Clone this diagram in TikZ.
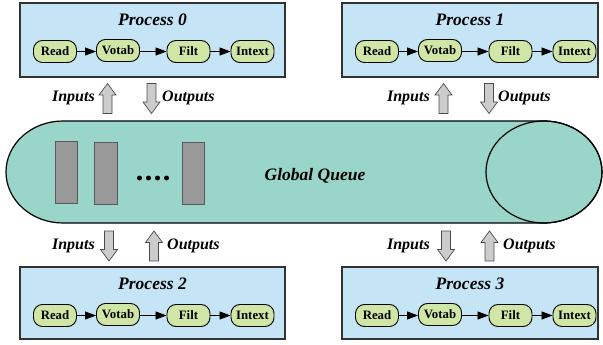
\documentclass[tikz,border=0pt]{standalone}
\usepackage{fontspec}
\setmainfont{Liberation Serif}
\usetikzlibrary{arrows.meta}

\definecolor{boxblue}{HTML}{C5E4F5}
\definecolor{stagegreen}{HTML}{CFE6A6}
\definecolor{queuegreen}{HTML}{9AD5CA}
\definecolor{slotgray}{HTML}{999999}
\definecolor{blockgray}{HTML}{CCCCCC}

\tikzset{
  procbox/.style={draw=black!80, line width=1.3pt, fill=boxblue},
  proctitle/.style={font=\fontsize{17.5}{20}\selectfont\bfseries\itshape, inner sep=0pt},
  stage/.style={draw=black, line width=0.9pt, fill=stagegreen, rounded corners=9pt,
    minimum width=43pt, minimum height=22pt, inner sep=0pt,
    font=\fontsize{12.8}{14}\selectfont\bfseries},
  flow/.style={-{Triangle[length=11pt,width=8pt]}, line width=0.8pt, black},
  iolabel/.style={font=\fontsize{16}{18}\selectfont\bfseries\itshape, inner sep=0pt},
  blockarrow/.style={draw=black!70, line width=0.7pt, fill=blockgray},
  slot/.style={draw=black!65, line width=0.8pt, fill=slotgray},
  fatup/.pic={\draw[blockarrow] (-4.5,15) -- (-4.5,-3.5) -- (-8.5,-3.5) -- (0,-15)
     -- (8.5,-3.5) -- (4.5,-3.5) -- (4.5,15) -- cycle;},
  fatdown/.pic={\draw[blockarrow] (-4.5,-15) -- (-4.5,3.5) -- (-8.5,3.5) -- (0,15)
     -- (8.5,3.5) -- (4.5,3.5) -- (4.5,-15) -- cycle;}
}

\begin{document}
\begin{tikzpicture}[x=1pt, y=-1pt]
\useasboundingbox (0,0) rectangle (603,345);

% ---- process boxes ----
\draw[procbox] (20,3) rectangle (285,77);
\draw[procbox] (342,3) rectangle (598,77);
\draw[procbox] (20,267) rectangle (285,339);
\draw[procbox] (342,267) rectangle (598,339);

\node[proctitle] (t0) at (152.5,20) {Process 0};
\node[proctitle] (t1) at (470,20) {Process 1};
\node[proctitle] (t2) at (152.5,284) {Process 2};
\node[proctitle] (t3) at (470,284) {Process 3};

% ---- pipelines ----
\foreach \p/\x/\y in {0/20/51.5, 1/342/51.5, 2/20/315.5, 3/342/315.5} {
  \node[stage] (read\p)   at (\x+35,\y)   {Read};
  \node[stage] (votab\p)  at (\x+98,\y-1) {Votab};
  \node[stage] (filt\p)   at (\x+168.5,\y) {Filt};
  \node[stage] (intext\p) at (\x+232.5,\y) {Intext};
  \draw[flow] (read\p.east |- 0,\y) -- (votab\p.west |- 0,\y);
  \draw[flow] (votab\p.east |- 0,\y) -- (filt\p.west |- 0,\y);
  \draw[flow] (filt\p.east) -- (intext\p.west);
}

% ---- global queue ----
\filldraw[fill=queuegreen, draw=black, line width=1.2pt]
  (63,121) -- (544,121) arc[start angle=-90, end angle=90, x radius=58, y radius=51]
  -- (63,223) arc[start angle=90, end angle=270, x radius=57, y radius=51] -- cycle;
\draw[black, line width=1.2pt] (544,172) ellipse[x radius=58, y radius=51];

\draw[slot] (55,141) rectangle (77,203);
\draw[slot] (94,142) rectangle (117,204);
\draw[slot] (182,142) rectangle (204,204);
\foreach \d in {139.5,148.5,157.5,166.5} \fill[black] (\d,178) circle (2.5);

\node[proctitle] (gq) at (315,176) {Global Queue};

% ---- input / output arrows ----
\pic at (107.5,98.5) {fatup};
\pic at (151.5,98.5) {fatdown};
\pic at (443.5,98.5) {fatup};
\pic at (489,98.5) {fatdown};
\pic at (109,246) {fatdown};
\pic at (154,246) {fatup};
\pic at (446,246) {fatdown};
\pic at (489.5,246) {fatup};

\node[iolabel, anchor=east] (in0) at (95,98) {Inputs};
\node[iolabel, anchor=west] (out0) at (162,98) {Outputs};
\node[iolabel, anchor=east] (in1) at (430,98) {Inputs};
\node[iolabel, anchor=west] (out1) at (498,98) {Outputs};
\node[iolabel, anchor=east] (in2) at (95,246) {Inputs};
\node[iolabel, anchor=west] (out2) at (167,246) {Outputs};
\node[iolabel, anchor=east] (in3) at (430,246) {Inputs};
\node[iolabel, anchor=west] (out3) at (503,246) {Outputs};
\end{tikzpicture}
\end{document}
